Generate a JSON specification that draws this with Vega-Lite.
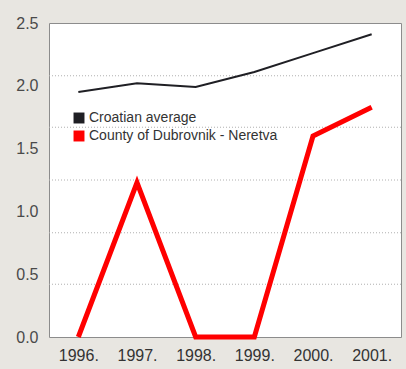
{
  "$schema": "https://vega.github.io/schema/vega-lite/v6.json",
  "width": 352,
  "height": 314,
  "autosize": {"type": "none"},
  "padding": {"left": 49, "top": 23, "right": 5, "bottom": 32},
  "background": "#e8e6e1",
  "config": {
    "font": "Liberation Sans",
    "view": {"fill": "#ffffff", "stroke": "#8c8c8c", "strokeWidth": 1},
    "axisY": {
      "grid": false,
      "domain": false,
      "ticks": false,
      "labelFont": "Liberation Sans",
      "labelFontSize": 16,
      "labelColor": "#4a4a4a",
      "labelPadding": 11
    },
    "axisX": {
      "grid": false,
      "domain": false,
      "ticks": false,
      "labelFont": "Liberation Sans",
      "labelFontSize": 16,
      "labelColor": "#333333",
      "labelPadding": 10,
      "labelAngle": 0
    }
  },
  "datasets": {
    "grid": [
      {"level": 0.42},
      {"level": 0.83},
      {"level": 1.25},
      {"level": 1.67},
      {"level": 2.08}
    ],
    "series": [
      {"year": "1996.", "series": "Croatian average", "value": 1.95},
      {"year": "1997.", "series": "Croatian average", "value": 2.02},
      {"year": "1998.", "series": "Croatian average", "value": 1.99},
      {"year": "1999.", "series": "Croatian average", "value": 2.11},
      {"year": "2000.", "series": "Croatian average", "value": 2.26},
      {"year": "2001.", "series": "Croatian average", "value": 2.41},
      {"year": "1996.", "series": "County of Dubrovnik - Neretva", "value": 0.0},
      {"year": "1997.", "series": "County of Dubrovnik - Neretva", "value": 1.23},
      {"year": "1998.", "series": "County of Dubrovnik - Neretva", "value": 0.0},
      {"year": "1999.", "series": "County of Dubrovnik - Neretva", "value": 0.0},
      {"year": "2000.", "series": "County of Dubrovnik - Neretva", "value": 1.6},
      {"year": "2001.", "series": "County of Dubrovnik - Neretva", "value": 1.83}
    ]
  },
  "layer": [
    {
      "data": {"name": "grid"},
      "mark": {"type": "rule", "stroke": "#b0b0b0", "strokeDash": [1, 2], "strokeWidth": 1},
      "encoding": {
        "y": {
          "field": "level",
          "type": "quantitative",
          "title": null,
          "scale": {"domain": [0, 2.5], "nice": false},
          "axis": {"values": [0, 0.5, 1, 1.5, 2, 2.5], "format": ".1f"}
        }
      }
    },
    {
      "data": {"name": "series"},
      "transform": [{"filter": "datum.series === 'Croatian average'"}],
      "mark": {"type": "line", "strokeWidth": 2, "strokeJoin": "miter"},
      "encoding": {
        "x": {
          "field": "year",
          "type": "ordinal",
          "sort": null,
          "title": null,
          "scale": {"type": "point", "padding": 0.5}
        },
        "y": {
          "field": "value",
          "type": "quantitative",
          "title": null,
          "scale": {"domain": [0, 2.5], "nice": false},
          "axis": {"values": [0, 0.5, 1, 1.5, 2, 2.5], "format": ".1f"}
        },
        "color": {
          "field": "series",
          "type": "nominal",
          "scale": {
            "domain": ["Croatian average", "County of Dubrovnik - Neretva"],
            "range": ["#1f1f24", "#ff0000"]
          },
          "legend": {
            "orient": "none",
            "legendX": 23,
            "legendY": 88,
            "title": null,
            "padding": 0,
            "symbolType": "square",
            "symbolSize": 120,
            "symbolStrokeWidth": 0,
            "labelFont": "Liberation Sans",
            "labelFontSize": 14,
            "labelColor": "#333333",
            "labelLimit": 300,
            "labelOffset": 3,
            "rowPadding": 4,
            "encode": {
              "symbols": {
                "update": {
                  "fill": {"scale": "color", "field": "value"},
                  "stroke": {"value": "transparent"},
                  "strokeWidth": {"value": 0}
                }
              }
            }
          }
        }
      }
    },
    {
      "data": {"name": "series"},
      "transform": [{"filter": "datum.series !== 'Croatian average'"}],
      "mark": {"type": "line", "strokeWidth": 5, "strokeJoin": "miter"},
      "encoding": {
        "x": {
          "field": "year",
          "type": "ordinal",
          "sort": null,
          "title": null,
          "scale": {"type": "point", "padding": 0.5}
        },
        "y": {
          "field": "value",
          "type": "quantitative",
          "title": null,
          "scale": {"domain": [0, 2.5], "nice": false},
          "axis": {"values": [0, 0.5, 1, 1.5, 2, 2.5], "format": ".1f"}
        },
        "color": {
          "field": "series",
          "type": "nominal"
        }
      }
    }
  ]
}
